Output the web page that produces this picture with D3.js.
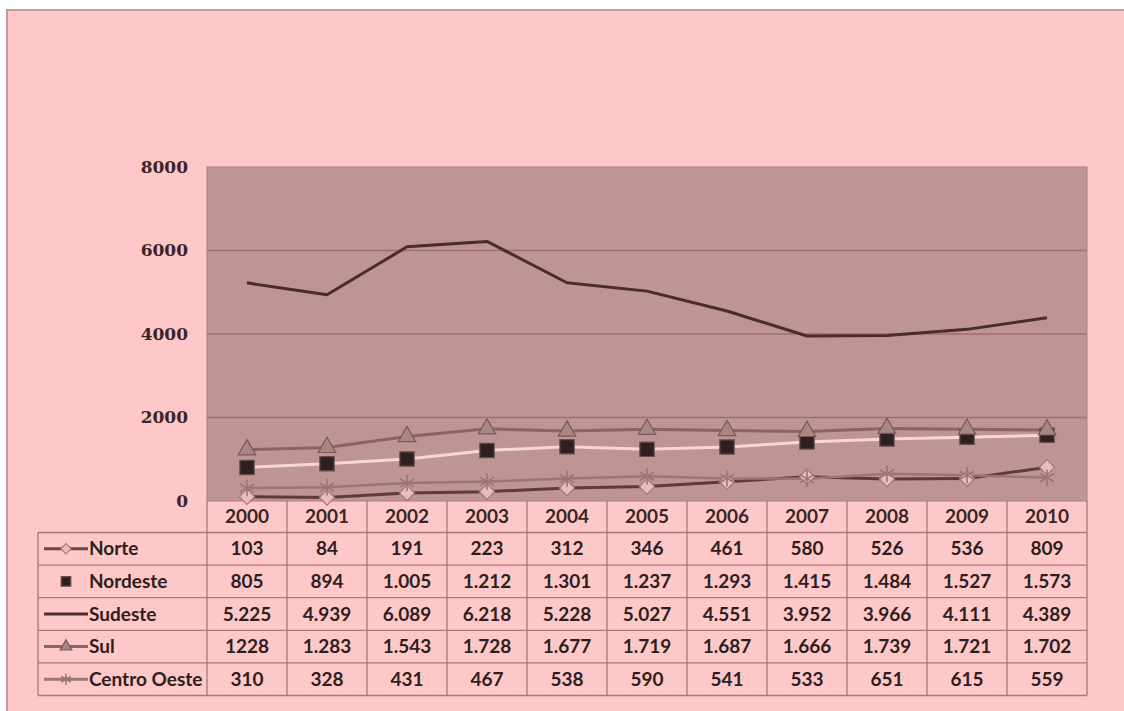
<!DOCTYPE html>
<html>
<head>
<meta charset="utf-8">
<script src="https://cdn.jsdelivr.net/npm/d3@7"></script>
<style>
  html, body { margin: 0; padding: 0; background: #ffffff; }
</style>
</head>
<body>
<div id="chart"></div>
<script>
// data (table text as printed in the original, values parsed from it)
var years = ["2000", "2001", "2002", "2003", "2004", "2005", "2006", "2007", "2008", "2009", "2010"];
var norte = ["103", "84", "191", "223", "312", "346", "461", "580", "526", "536", "809"];
var nordeste = ["805", "894", "1.005", "1.212", "1.301", "1.237", "1.293", "1.415", "1.484", "1.527", "1.573"];
var sudeste = ["5.225", "4.939", "6.089", "6.218", "5.228", "5.027", "4.551", "3.952", "3.966", "4.111", "4.389"];
var sul = ["1228", "1.283", "1.543", "1.728", "1.677", "1.719", "1.687", "1.666", "1.739", "1.721", "1.702"];
var centroOeste = ["310", "328", "431", "467", "538", "590", "541", "533", "651", "615", "559"];
var yTicks = [0, 2000, 4000, 6000, 8000];

var series = [
  { name: "Norte", text: norte, line: "#5e3a3a", lw: 3, marker: "diamond", fill: "#ebbcbc", stroke: "#a27a7a" },
  { name: "Nordeste", text: nordeste, line: "#f6d6d6", lw: 3, marker: "square", fill: "#2c2020", stroke: "#6a4a4a", noLine: true },
  { name: "Sudeste", text: sudeste, line: "#4a2c2c", lw: 3, marker: null },
  { name: "Sul", text: sul, line: "#8a6565", lw: 3, marker: "triangle", fill: "#a88686", stroke: "#7a5858" },
  { name: "Centro Oeste", text: centroOeste, line: "#9c7575", lw: 2.5, marker: "star", fill: "none", stroke: "#9c7575" }
];
series.forEach(function(s) {
  s.values = s.text.map(function(t) { return +t.replace(".", ""); });
});

var W = 1124, H = 711;
var plot = { left: 207, right: 1087, top: 167, bottom: 501 };
var rowH = 32.6, headerH = 31.5;
var tableLeft = 38;

var svg = d3.select("#chart").append("svg")
  .attr("width", W).attr("height", H);

// page / chart background
svg.append("rect").attr("x", 7).attr("y", 10).attr("width", W).attr("height", H)
  .attr("fill", "#ffc8c8").attr("stroke", "#c39a9a").attr("stroke-width", 2);

var x = d3.scaleBand().domain(years).range([plot.left, plot.right]);
var y = d3.scaleLinear().domain([0, 8000]).range([plot.bottom, plot.top]);

// plot area
svg.append("rect")
  .attr("x", plot.left).attr("y", plot.top)
  .attr("width", plot.right - plot.left).attr("height", plot.bottom - plot.top)
  .attr("fill", "#be9494").attr("stroke", "#a98080").attr("stroke-width", 1);

// gridlines
svg.append("g").selectAll("line").data(yTicks.slice(1, -1)).enter().append("line")
  .attr("x1", plot.left).attr("x2", plot.right)
  .attr("y1", function(d) { return y(d); }).attr("y2", function(d) { return y(d); })
  .attr("stroke", "#a06f6f").attr("stroke-width", 1.5);

// y axis labels
var yAxis = d3.axisLeft(y).tickValues(yTicks).tickSize(0).tickPadding(19)
  .tickFormat(d3.format("d"));
var ya = svg.append("g").attr("transform", "translate(" + plot.left + ",0)").call(yAxis);
ya.select(".domain").remove();
ya.selectAll("text")
  .attr("font-family", "'DejaVu Serif', serif").attr("font-weight", "bold")
  .attr("font-size", "17px").attr("fill", "#3a2626");

// markers
function markerPath(type, k) {
  if (type === "diamond") return d3.symbol(d3.symbolDiamond2, 150 * k)();
  if (type === "square") return d3.symbol(d3.symbolSquare2, 260 * k)();
  if (type === "triangle") return d3.symbol(d3.symbolTriangle2, 220 * k)();
  if (type === "star") return d3.symbol(d3.symbolAsterisk, 190 * k)();
  return null;
}
function drawMarker(g, s, k) {
  var p = markerPath(s.marker, k);
  if (!p) return g;
  return g.append("path").attr("d", p)
    .attr("fill", s.marker === "star" ? "none" : s.fill)
    .attr("stroke", s.stroke).attr("stroke-width", s.marker === "star" ? 1.6 : 1.2);
}

var line = d3.line()
  .x(function(d, i) { return x(years[i]) + x.bandwidth() / 2; })
  .y(function(d) { return y(d); });

series.forEach(function(s) {
  svg.append("path").datum(s.values)
    .attr("d", line)
    .attr("fill", "none").attr("stroke", s.line).attr("stroke-width", s.lw)
    .attr("stroke-linejoin", "round");
});
series.forEach(function(s) {
  if (!s.marker) return;
  s.values.forEach(function(v, i) {
    drawMarker(svg.append("g")
      .attr("transform", "translate(" + (x(years[i]) + x.bandwidth() / 2) + "," + y(v) + ")"), s, 1);
  });
});

// data table
var tcol = "#a37a7a";
var tableTop = plot.bottom;
var rowsTop = tableTop + headerH;
var tableBottom = rowsTop + rowH * series.length;
var tg = svg.append("g");

// header year labels
tg.selectAll("text.year").data(years).enter().append("text")
  .attr("x", function(d) { return x(d) + x.bandwidth() / 2; })
  .attr("y", tableTop + headerH / 2 + 6.5)
  .attr("text-anchor", "middle")
  .attr("font-family", "Lato, sans-serif").attr("font-weight", "bold")
  .attr("font-size", "19px").attr("fill", "#3a2626")
  .text(function(d) { return d; });

// horizontal table lines
var hl = [rowsTop];
series.forEach(function(s, i) { hl.push(rowsTop + rowH * (i + 1)); });
tg.selectAll("line.h").data(hl).enter().append("line")
  .attr("x1", tableLeft).attr("x2", plot.right)
  .attr("y1", function(d) { return d; }).attr("y2", function(d) { return d; })
  .attr("stroke", tcol).attr("stroke-width", 1.3);

// vertical table lines
var vx = years.map(function(d) { return x(d); }).concat([plot.right]);
tg.selectAll("line.v").data(vx).enter().append("line")
  .attr("x1", function(d) { return d; }).attr("x2", function(d) { return d; })
  .attr("y1", tableTop).attr("y2", tableBottom)
  .attr("stroke", tcol).attr("stroke-width", 1.3);
tg.append("line").attr("x1", tableLeft).attr("x2", tableLeft)
  .attr("y1", rowsTop).attr("y2", tableBottom)
  .attr("stroke", tcol).attr("stroke-width", 1.3);

// rows
series.forEach(function(s, r) {
  var cy = rowsTop + rowH * r + rowH / 2;
  if (!s.noLine) {
    tg.append("line").attr("x1", 44).attr("x2", 88).attr("y1", cy).attr("y2", cy)
      .attr("stroke", s.name === "Norte" ? "#6a4646" : s.line).attr("stroke-width", 3);
  }
  drawMarker(tg.append("g").attr("transform", "translate(66," + cy + ")"), s, 0.45);
  tg.append("text").attr("x", 89).attr("y", cy + 6.5)
    .attr("font-family", "Lato, sans-serif").attr("font-weight", "bold")
    .attr("font-size", "19px").attr("fill", "#2e1e1e").text(s.name);
  tg.selectAll(null).data(s.text).enter().append("text")
    .attr("x", function(d, i) { return x(years[i]) + x.bandwidth() / 2; })
    .attr("y", cy + 6.5).attr("text-anchor", "middle")
    .attr("font-family", "Lato, sans-serif").attr("font-weight", "bold")
    .attr("font-size", "19px").attr("fill", "#2e1e1e")
    .text(function(d) { return d; });
});
</script>
</body>
</html>
